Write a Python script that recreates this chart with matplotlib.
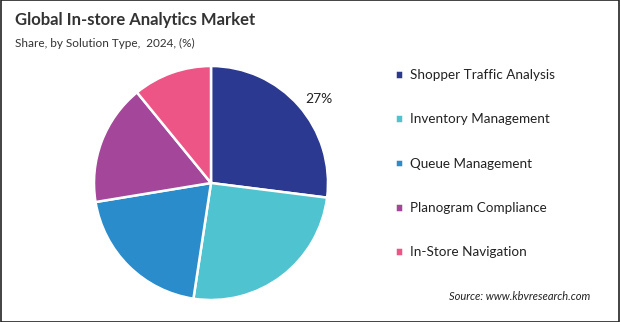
import matplotlib.pyplot as plt
from matplotlib.patches import Rectangle

# data
segments = ["Shopper Traffic Analysis", "Inventory Management", "Queue Management",
            "Planogram Compliance", "In-Store Navigation"]
shares = [27.0, 25.4, 20.0, 16.7, 10.9]
colors = ["#2b3990", "#4fc3cf", "#2a8ccb", "#a4479a", "#ee5587"]
shown_labels = ["27%", "", "", "", ""]

plt.rcParams['font.family'] = ['Lato', 'DejaVu Sans']

fig = plt.figure(figsize=(6.2, 3.22), dpi=100)

# pie axes: centre ~ (211,183) px, radius ~117 px
cx, cy, r = 211, 183, 117
W, H = 620, 322
ax = fig.add_axes([(cx - r) / W, (H - cy - r) / H, 2 * r / W, 2 * r / H])
wedges, texts = ax.pie(shares, colors=colors, startangle=90, counterclock=False,
                       labels=shown_labels, labeldistance=1.08,
                       wedgeprops=dict(edgecolor="white", linewidth=1.8),
                       textprops=dict(fontsize=10, color="#222222"))
ax.set_xlim(-1, 1)
ax.set_ylim(-1, 1)
ax.set_aspect("equal")
ax.axis("off")

# titles
fig.text(15 / W, 1 - 20 / H, "Global In-store Analytics Market", fontsize=12,
         fontweight="bold", color="#333333", va="center", ha="left")
fig.text(15 / W, 1 - 43 / H, "Share, by Solution Type,  2024, (%)", fontsize=8.5,
         color="#333333", va="center", ha="left")

# legend
leg = fig.legend(wedges, segments, loc="upper left", bbox_to_anchor=(383 / W, 1 - 57 / H),
                 frameon=False, fontsize=9.7, labelspacing=2.4, handlelength=0.6,
                 handleheight=0.6, handletextpad=0.5)
for t in leg.get_texts():
    t.set_color("#222222")

fig.text(590 / W, 1 - 296 / H, "Source: www.kbvresearch.com", fontsize=8,
         style="italic", color="#222222", ha="right", va="center")

# frame around the figure
fig.patches.append(Rectangle((0.001, 0.001), 0.998, 0.998, transform=fig.transFigure,
                             fill=False, edgecolor="#222222", linewidth=1.2))

fig.savefig("out.png", dpi=100)
